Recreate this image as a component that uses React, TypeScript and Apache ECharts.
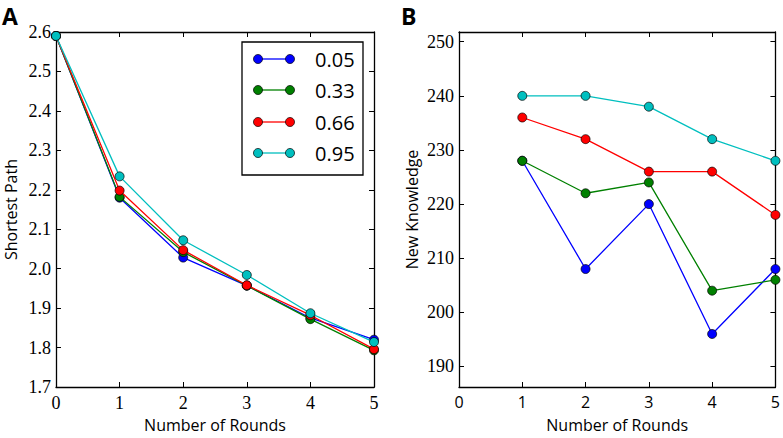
import React, { useEffect, useRef } from "react";
import * as echarts from "echarts";

const seriesNames = ["0.05", "0.33", "0.66", "0.95"];
const seriesColors = ["#0000ff", "#008000", "#ff0000", "#00bfbf"];

const roundsA = [0, 1, 2, 3, 4, 5];
const shortestPath = [
  [2.59, 2.18, 2.028, 1.957, 1.875, 1.82],
  [2.59, 2.182, 2.042, 1.957, 1.872, 1.793],
  [2.59, 2.198, 2.047, 1.958, 1.882, 1.796],
  [2.59, 2.234, 2.072, 1.984, 1.887, 1.814],
];

const roundsB = [1, 2, 3, 4, 5];
const newKnowledge = [
  [228, 208, 220, 196, 208],
  [228, 222, 224, 204, 206],
  [236, 232, 226, 226, 218],
  [240, 240, 238, 232, 228],
];

const yTicksA = [1.7, 1.8, 1.9, 2.0, 2.1, 2.2, 2.3, 2.4, 2.5, 2.6];
const yTicksB = [190, 200, 210, 220, 230, 240, 250];

const SERIF = "Liberation Serif";
const SANS = "Open Sans";

export default function App() {
  const ref = useRef<HTMLDivElement>(null);
  useEffect(() => {
    if (!ref.current) return;
    const chart = echarts.init(ref.current, null, { renderer: "svg" });
    const axisLine = { show: true, onZero: false, lineStyle: { color: "#000", width: 1.3 } };
    const tick = { show: true, inside: true, length: 5, lineStyle: { color: "#000", width: 1 } };

    const mkX = (gridIndex: number, pos: "bottom" | "top", labelFont: string, labelSize: number, name?: string) => ({
      type: "value",
      gridIndex,
      position: pos,
      min: 0,
      max: 5,
      interval: 1,
      axisLine,
      axisTick: tick,
      splitLine: { show: false },
      axisLabel: pos === "bottom"
        ? { show: true, color: "#000", fontFamily: labelFont, fontSize: labelSize, margin: 7 }
        : { show: false },
      name: name || "",
      nameLocation: "middle",
      nameGap: 30,
      nameTextStyle: { color: "#000", fontFamily: SANS, fontSize: 16 },
    });

    const mkY = (
      gridIndex: number,
      pos: "left" | "right",
      min: number,
      max: number,
      ticks: number[],
      fmt: (v: number) => string,
      name: string,
      nameGap: number
    ) => ({
      type: "value",
      gridIndex,
      position: pos,
      min,
      max,
      axisLine,
      axisTick: { ...tick, customValues: ticks },
      splitLine: { show: false },
      axisLabel: pos === "left"
        ? { show: true, customValues: ticks, formatter: (v: number) => fmt(v), color: "#000", fontFamily: SERIF, fontSize: 18, margin: 5 }
        : { show: false },
      name: pos === "left" ? name : "",
      nameLocation: "middle",
      nameGap,
      nameTextStyle: { color: "#000", fontFamily: SANS, fontSize: 16 },
    });

    const series: any[] = [];
    shortestPath.forEach((vals, i) => {
      series.push({
        type: "line",
        name: seriesNames[i],
        xAxisIndex: 0,
        yAxisIndex: 0,
        data: vals.map((v, j) => [roundsA[j], v]),
        symbol: "circle",
        symbolSize: 9,
        lineStyle: { color: seriesColors[i], width: 1.3 },
        itemStyle: { color: seriesColors[i], borderColor: "#000", borderWidth: 0.7 },
        z: 2 + i,
      });
    });
    newKnowledge.forEach((vals, i) => {
      series.push({
        type: "line",
        name: seriesNames[i],
        xAxisIndex: 2,
        yAxisIndex: 2,
        data: vals.map((v, j) => [roundsB[j], v]),
        symbol: "circle",
        symbolSize: 9,
        lineStyle: { color: seriesColors[i], width: 1.3 },
        itemStyle: { color: seriesColors[i], borderColor: "#000", borderWidth: 0.7 },
        z: 2 + i,
      });
    });

    const legendBox = { left: 242, top: 42, width: 121, height: 133 };
    const rowY = [59, 90, 122, 153];
    const legendEls: any[] = [
      {
        type: "rect",
        shape: { x: legendBox.left, y: legendBox.top, width: legendBox.width, height: legendBox.height },
        style: { fill: "#fff", stroke: "#000", lineWidth: 1.3 },
        z: 100,
      },
    ];
    seriesNames.forEach((nm, i) => {
      legendEls.push({
        type: "line",
        shape: { x1: 258, y1: rowY[i], x2: 290, y2: rowY[i] },
        style: { stroke: seriesColors[i], lineWidth: 1.3 },
        z: 101,
      });
      [258, 290].forEach((cx) =>
        legendEls.push({
          type: "circle",
          shape: { cx, cy: rowY[i], r: 4.5 },
          style: { fill: seriesColors[i], stroke: "#000", lineWidth: 0.7 },
          z: 102,
        })
      );
      legendEls.push({
        type: "text",
        x: 315,
        y: rowY[i],
        style: { text: nm, fill: "#000", fontFamily: SANS, fontSize: 20, verticalAlign: "middle" },
        z: 102,
      });
    });

    chart.setOption({
      animation: false,
      backgroundColor: "#fff",
      grid: [
        { left: 56, right: 409, top: 32, bottom: 46 },
        { left: 459, right: 5, top: 32, bottom: 46 },
      ],
      xAxis: [
        mkX(0, "bottom", SERIF, 18, "Number of Rounds"),
        mkX(0, "top", SERIF, 18),
        mkX(1, "bottom", SANS, 16, "Number of Rounds"),
        mkX(1, "top", SANS, 16),
      ],
      yAxis: [
        mkY(0, "left", 1.7, 2.6, yTicksA, (v) => v.toFixed(1), "Shortest Path", 37),
        mkY(0, "right", 1.7, 2.6, yTicksA, (v) => v.toFixed(1), "", 0),
        mkY(1, "left", 186.2, 251.8, yTicksB, (v) => String(Math.round(v)), "New Knowledge", 39),
        mkY(1, "right", 186.2, 251.8, yTicksB, (v) => String(Math.round(v)), "", 0),
      ],
      series,
      graphic: [
        { type: "text", x: 2, y: 4, style: { text: "A", fill: "#000", fontFamily: SANS, fontWeight: "bold", fontSize: 23 } },
        { type: "text", x: 401, y: 4, style: { text: "B", fill: "#000", fontFamily: SANS, fontWeight: "bold", fontSize: 23 } },
        ...legendEls,
      ],
    });
    return () => chart.dispose();
  }, []);
  return <div ref={ref} style={{ width: 783, height: 438, position: "absolute", left: 0, top: 0 }} />;
}
